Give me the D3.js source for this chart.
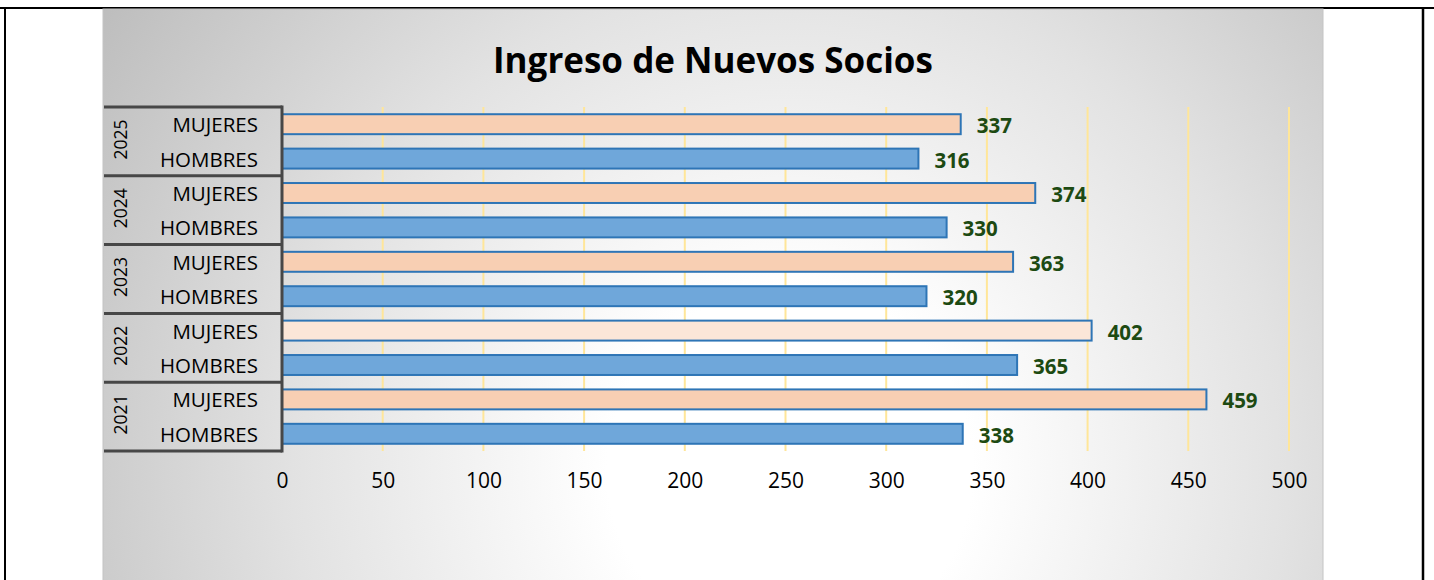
<!DOCTYPE html>
<html>
<head>
<meta charset="utf-8">
<script src="https://cdn.jsdelivr.net/npm/d3@7"></script>
<style>
  html, body { margin: 0; padding: 0; background: #ffffff; }
  svg { display: block; }
</style>
</head>
<body>
<svg id="chart" width="1434" height="580"></svg>
<script>
// Yearly intake of new members, split by gender
const years = ["2025", "2024", "2023", "2022", "2021"];
const genders = ["MUJERES", "HOMBRES"];
const mujeres = [337, 374, 363, 402, 459];
const hombres = [316, 330, 320, 365, 338];
const tickValues = [0, 50, 100, 150, 200, 250, 300, 350, 400, 450, 500];
const title = "Ingreso de Nuevos Socios";

const W = 1434, H = 580;
const svg = d3.select("#chart");
const font = "'Open Sans', 'Noto Sans', sans-serif";

// page frame
const frame = svg.append("g");
frame.append("line").attr("x1", 0).attr("x2", W).attr("y1", 8).attr("y2", 8)
  .attr("stroke", "#000").attr("stroke-width", 2);
frame.append("line").attr("x1", 5).attr("x2", 5).attr("y1", 8).attr("y2", H)
  .attr("stroke", "#000").attr("stroke-width", 2);
frame.append("line").attr("x1", 1423).attr("x2", 1423).attr("y1", 8).attr("y2", H)
  .attr("stroke", "#000").attr("stroke-width", 2.5);

// chart area with a radial grey-to-white fill
const defs = svg.append("defs");
const rg = defs.append("radialGradient").attr("id", "bg")
  .attr("gradientUnits", "userSpaceOnUse")
  .attr("cx", 790).attr("cy", 470).attr("r", 830);
rg.append("stop").attr("offset", 0).attr("stop-color", "#ffffff");
rg.append("stop").attr("offset", 0.22).attr("stop-color", "#ffffff");
rg.append("stop").attr("offset", 0.6).attr("stop-color", "#e2e2e2");
rg.append("stop").attr("offset", 1).attr("stop-color", "#bdbdbd");

const area = { x0: 103, y0: 9, x1: 1323, y1: 600 };
svg.append("rect")
  .attr("x", area.x0).attr("y", area.y0)
  .attr("width", area.x1 - area.x0).attr("height", area.y1 - area.y0)
  .attr("fill", "url(#bg)")
  .attr("stroke", "#c4c4c4").attr("stroke-width", 1);

// scales
const plot = { left: 282, right: 1289, top: 107, bottom: 451 };
const x = d3.scaleLinear().domain([0, 500]).range([plot.left, plot.right]);

const rows = [];
years.forEach((yr, i) => {
  rows.push({ year: yr, gender: genders[0], value: mujeres[i] });
  rows.push({ year: yr, gender: genders[1], value: hombres[i] });
});
const key = d => d.year + "|" + d.gender;
const y = d3.scaleBand().domain(rows.map(key))
  .range([plot.top, plot.bottom]).paddingInner(0.42).paddingOuter(0.21);
const yearBand = d3.scaleBand().domain(years).range([plot.top, plot.bottom]);

// title
svg.append("text")
  .attr("x", (area.x0 + area.x1) / 2).attr("y", 73)
  .attr("text-anchor", "middle")
  .attr("font-family", font).attr("font-weight", 700).attr("font-size", 35)
  .attr("fill", "#000").text(title);

// vertical gridlines
svg.append("g").selectAll("line")
  .data(tickValues.filter(v => v > 0))
  .join("line")
  .attr("x1", d => x(d)).attr("x2", d => x(d))
  .attr("y1", plot.top).attr("y2", plot.bottom)
  .attr("stroke", "#ffe699").attr("stroke-width", 2);

// bars
const colorM = "#f8cfb3", colorMLight = "#fbe6d8", colorH = "#6fa7da";
svg.append("g").selectAll("rect")
  .data(rows)
  .join("rect")
  .attr("x", x(0))
  .attr("y", d => y(key(d)))
  .attr("width", d => x(d.value) - x(0))
  .attr("height", y.bandwidth())
  .attr("fill", d => d.gender === "HOMBRES" ? colorH : (d.year === "2022" ? colorMLight : colorM))
  .attr("stroke", "#2e75b6").attr("stroke-width", 2);

// value labels
svg.append("g").selectAll("text")
  .data(rows)
  .join("text")
  .attr("x", d => x(d.value) + 16)
  .attr("y", d => y(key(d)) + y.bandwidth() / 2 + 1)
  .attr("dominant-baseline", "central")
  .attr("font-family", font).attr("font-weight", 700).attr("font-size", 20.5)
  .attr("fill", "#1d4a12")
  .text(d => d.value);

// x axis tick labels
const xAxis = d3.axisBottom(x).tickValues(tickValues).tickSize(0).tickPadding(0);
const gx = svg.append("g").attr("transform", `translate(0,${plot.bottom + 22})`).call(xAxis);
gx.select(".domain").remove();
gx.selectAll("text")
  .attr("font-family", font).attr("font-size", 21).attr("fill", "#000")
  .attr("dy", "0.72em");

// category axis: gender labels
svg.append("g").selectAll("text")
  .data(rows)
  .join("text")
  .attr("x", 258)
  .attr("y", d => y(key(d)) + y.bandwidth() / 2)
  .attr("dominant-baseline", "central")
  .attr("text-anchor", "end")
  .attr("font-family", font).attr("font-size", 20.5).attr("fill", "#000")
  .text(d => d.gender);

// category axis: year labels, rotated
svg.append("g").selectAll("text")
  .data(years)
  .join("text")
  .attr("transform", d => `translate(120,${yearBand(d) + yearBand.bandwidth() / 2 - 2}) rotate(-90)`)
  .attr("text-anchor", "middle")
  .attr("dominant-baseline", "central")
  .attr("font-family", font).attr("font-size", 17.5).attr("fill", "#000")
  .text(d => d);

// category axis separators and axis line
const sepColor = "#474747";
const gSep = svg.append("g");
gSep.selectAll("line.sep")
  .data(years.map(d => yearBand(d)).concat([plot.bottom]))
  .join("line").attr("class", "sep")
  .attr("x1", 104).attr("x2", plot.left)
  .attr("y1", d => d).attr("y2", d => d)
  .attr("stroke", sepColor).attr("stroke-width", 3);
gSep.append("line")
  .attr("x1", plot.left).attr("x2", plot.left)
  .attr("y1", plot.top - 1.5).attr("y2", plot.bottom + 1.5)
  .attr("stroke", sepColor).attr("stroke-width", 3);
</script>
</body>
</html>
